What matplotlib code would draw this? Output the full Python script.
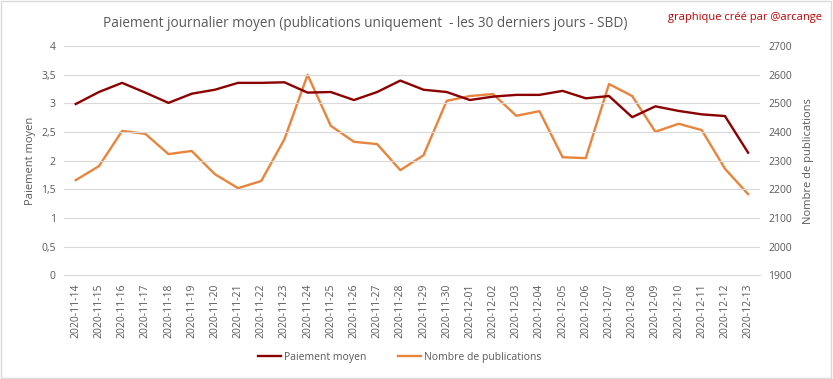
import matplotlib.pyplot as plt
from matplotlib.ticker import FuncFormatter, MultipleLocator
from matplotlib.patches import Rectangle

plt.rcParams['font.family'] = ['Open Sans', 'DejaVu Sans']

dates = ['2020-11-14', '2020-11-15', '2020-11-16', '2020-11-17', '2020-11-18',
         '2020-11-19', '2020-11-20', '2020-11-21', '2020-11-22', '2020-11-23',
         '2020-11-24', '2020-11-25', '2020-11-26', '2020-11-27', '2020-11-28',
         '2020-11-29', '2020-11-30', '2020-12-01', '2020-12-02', '2020-12-03',
         '2020-12-04', '2020-12-05', '2020-12-06', '2020-12-07', '2020-12-08',
         '2020-12-09', '2020-12-10', '2020-12-11', '2020-12-12', '2020-12-13']
paiement = [2.99, 3.20, 3.36, 3.19, 3.01, 3.17, 3.24, 3.36, 3.36, 3.37,
            3.19, 3.20, 3.06, 3.20, 3.40, 3.24, 3.20, 3.06, 3.12, 3.15,
            3.15, 3.22, 3.09, 3.13, 2.76, 2.95, 2.87, 2.81, 2.78, 2.14]
publications = [2232, 2281, 2404, 2394, 2323, 2334, 2253, 2204, 2229, 2375,
                2600, 2422, 2366, 2358, 2267, 2319, 2509, 2526, 2533, 2457,
                2473, 2312, 2309, 2568, 2526, 2401, 2429, 2407, 2272, 2183]

red = '#8b0000'
orange = '#e8843c'
grey = '#595959'

fig = plt.figure(figsize=(8.33, 3.79), dpi=100)
ax = fig.add_axes([0.077, 0.274, 0.835, 0.604])
ax2 = ax.twinx()

x = list(range(len(dates)))
l1, = ax.plot(x, paiement, color=red, lw=1.7, label='Paiement moyen', zorder=3)
l2, = ax2.plot(x, publications, color=orange, lw=1.7, label='Nombre de publications')
ax.set_zorder(ax2.get_zorder() + 1)
ax.patch.set_visible(False)

ax.set_xlim(-0.5, len(dates) - 0.5)
ax.set_ylim(0, 4)
ax2.set_ylim(1900, 2700)
ax.yaxis.set_major_locator(MultipleLocator(0.5))
ax2.yaxis.set_major_locator(MultipleLocator(100))
ax.yaxis.set_major_formatter(FuncFormatter(lambda v, p: ('%g' % v).replace('.', ',')))
ax.set_xticks(x)
ax.set_xticklabels(dates, rotation=90)
ax.grid(axis='y', color='#d9d9d9', lw=0.8)

for a in (ax, ax2):
    for s in a.spines.values():
        s.set_visible(False)
    a.tick_params(length=0, labelsize=7.5, labelcolor=grey, pad=6)
ax.spines['bottom'].set_visible(True)
ax.spines['bottom'].set_color('#d9d9d9')

ax.set_ylabel('Paiement moyen', fontsize=8, color=grey)
ax2.set_ylabel('Nombre de publications', fontsize=8, color=grey, labelpad=8)

fig.text(0.438, 0.937, 'Paiement journalier moyen (publications uniquement  - les 30 derniers jours - SBD)',
         ha='center', va='center', fontsize=9.8, color=grey)
fig.text(0.987, 0.955, 'graphique créé par @arcange', ha='right', va='center',
         fontsize=8, color='#c00000')

fig.legend(handles=[l1, l2], loc='center', bbox_to_anchor=(0.48, 0.058), ncol=2,
           frameon=False, fontsize=7.5, labelcolor=grey, handlelength=2.2,
           handletextpad=0.3, columnspacing=3)

fig.add_artist(Rectangle((0.001, 0.002), 0.997, 0.995, transform=fig.transFigure,
                         fill=False, edgecolor='#d9d9d9', lw=1))

fig.savefig('out.png', dpi=100)
